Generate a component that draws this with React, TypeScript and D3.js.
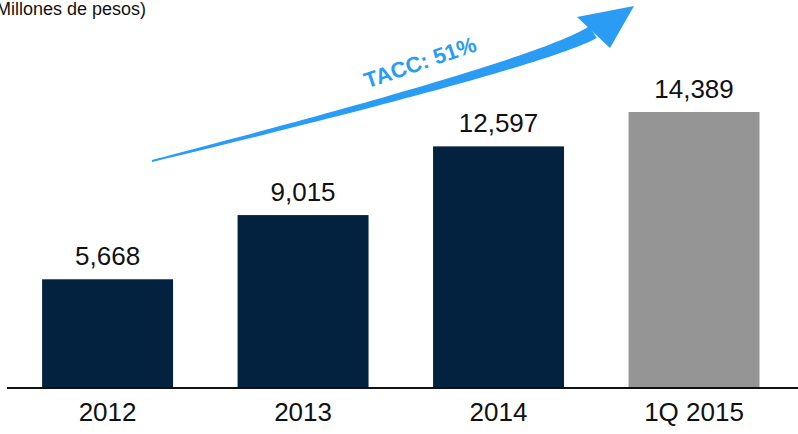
import React from "react";
import * as d3 from "d3";

const categories = ["2012", "2013", "2014", "1Q 2015"];
const values = [5668, 9015, 12597, 14389];
const barColors = ["#03223f", "#03223f", "#03223f", "#959595"];
const unitLabel = "(Millones de pesos)";
const growthLabel = "TACC: 51%";

const W = 798;
const H = 434;

export default function App() {
  const baseY = 388;
  const x = d3.scaleBand<string>().domain(categories).range([3, 798.6]).paddingInner(0.33).paddingOuter(0.2);
  const y = d3.scaleLinear().domain([0, 14389]).range([baseY, 112]);
  const fmt = d3.format(",");

  // tapered arrow along quadratic curve
  const p0 = [152, 161], c = [543, 63], p1 = [593, 32];
  const n = 60;
  const upper: [number, number][] = [];
  const lower: [number, number][] = [];
  for (let i = 0; i <= n; i++) {
    const t = i / n;
    const px = (1 - t) * (1 - t) * p0[0] + 2 * (1 - t) * t * c[0] + t * t * p1[0];
    const py = (1 - t) * (1 - t) * p0[1] + 2 * (1 - t) * t * c[1] + t * t * p1[1];
    const dx = 2 * (1 - t) * (c[0] - p0[0]) + 2 * t * (p1[0] - c[0]);
    const dy = 2 * (1 - t) * (c[1] - p0[1]) + 2 * t * (p1[1] - c[1]);
    const len = Math.hypot(dx, dy);
    const nx = -dy / len, ny = dx / len;
    const hw = 1 + 6 * Math.pow(t, 0.9);
    upper.push([px + nx * hw, py + ny * hw]);
    lower.push([px - nx * hw, py - ny * hw]);
  }
  const head: [number, number][] = [[577, 17], [634, 6], [610, 48]];
  const line = d3.line();
  const bodyPath = line([...upper, ...lower.reverse()]) + "Z";
  const headPath = line(head) + "Z";

  return (
    <svg width={W} height={H} style={{ position: "absolute", left: 0, top: 0, fontFamily: "Arial, Liberation Sans, sans-serif" }}>
      <rect width={W} height={H} fill="#ffffff" />
      <text x={146} y={15} fontSize={18} textAnchor="end" fill="#111">{unitLabel}</text>
      {categories.map((cat, i) => (
        <g key={cat}>
          <rect x={x(cat)} y={y(values[i])} width={x.bandwidth()} height={baseY - y(values[i])} fill={barColors[i]} />
          <text x={(x(cat) as number) + x.bandwidth() / 2} y={y(values[i]) - 14} fontSize={26} textAnchor="middle" fill="#111">{fmt(values[i])}</text>
          <text x={(x(cat) as number) + x.bandwidth() / 2} y={421} fontSize={26} textAnchor="middle" fill="#111">{cat}</text>
        </g>
      ))}
      <line x1={7} x2={798} y1={baseY} y2={baseY} stroke="#111" strokeWidth={2} />
      <path d={bodyPath} fill="#2b9cf3" />
      <path d={headPath} fill="#2b9cf3" />
      <text x={420} y={70} fontSize={22} fontWeight="bold" fill="#2b9cf3" textAnchor="middle" transform="rotate(-19 420 62)">{growthLabel}</text>
    </svg>
  );
}
